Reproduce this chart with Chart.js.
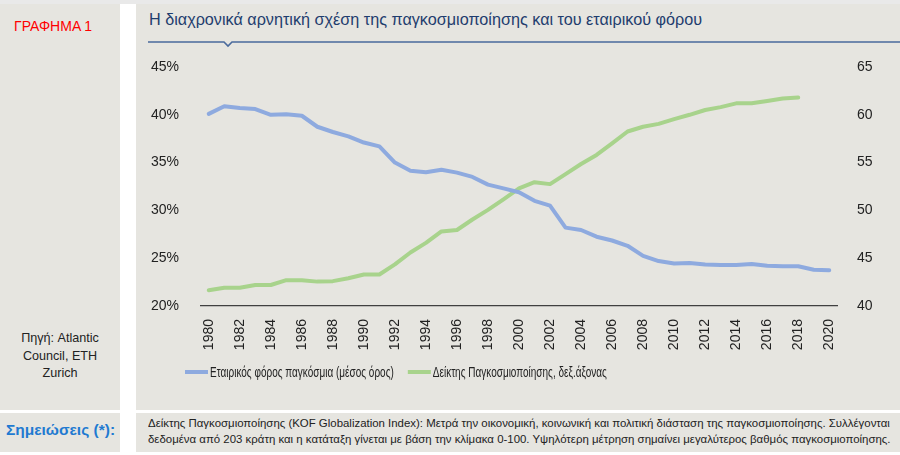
<!DOCTYPE html>
<html>
<head>
<meta charset="utf-8">
<script src="https://cdn.jsdelivr.net/npm/chart.js@4.4.1/dist/chart.umd.min.js"></script>
<style>
  html, body { margin:0; padding:0; background:#ffffff; }
  body { width:900px; height:455px; position:relative; overflow:hidden; font-family:"Liberation Sans", Arial, sans-serif; }
  .p { position:absolute; background:#e6e5e0; }
  #topband { position:absolute; left:0; top:0; width:900px; height:4px; background:#e9e9e9; }
  #graf { position:absolute; left:14px; top:18px; font-size:14px; color:#ff0000; }
  #title { position:absolute; left:149px; top:10px; font-size:16.2px; color:#1f3d6e; white-space:nowrap; }
  #src { position:absolute; left:0; width:120px; top:330px; font-size:12.6px; line-height:17.5px; color:#222; text-align:center; }
  #notes { position:absolute; left:0; width:121px; top:421px; font-size:15.5px; font-weight:bold; color:#1f7ad1; text-align:center; }
  #notetext { position:absolute; left:148px; top:416px; font-size:11.5px; line-height:15.5px; color:#222; white-space:nowrap; transform-origin:0 0; }
  #cwrap { position:absolute; left:136px; top:45px; width:764px; height:365px; }
</style>
</head>
<body>
<div id="topband"></div>
<div class="p" style="left:0;top:4px;width:120px;height:406px;"></div>
<div class="p" style="left:136px;top:4px;width:764px;height:406px;"></div>
<div class="p" style="left:0;top:413px;width:120px;height:39px;"></div>
<div class="p" style="left:136px;top:413px;width:764px;height:39px;"></div>
<div id="graf">ΓΡΑΦΗΜΑ 1</div>
<div id="title">Η διαχρονικά αρνητική σχέση της παγκοσμιοποίησης και του εταιρικού φόρου</div>
<svg style="position:absolute;left:0;top:0" width="900" height="60">
  <polyline points="148,42 224,42 228,46 232,42 900,42" fill="none" stroke="#4a6a9c" stroke-width="1.6"/>
</svg>
<div id="src">Πηγή: Atlantic<br>Council, ETH<br>Zurich</div>
<div id="notes">Σημειώσεις (*):</div>
<div id="notetext">Δείκτης Παγκοσμιοποίησης (KOF Globalization Index): Μετρά την οικονομική, κοινωνική και πολιτική διάσταση της παγκοσμιοποίησης. Συλλέγονται<br>δεδομένα από 203 κράτη και η κατάταξη γίνεται με βάση την κλίμακα 0-100. Υψηλότερη μέτρηση σημαίνει μεγαλύτερος βαθμός παγκοσμιοποίησης.</div>
<div id="cwrap"><canvas id="c" width="764" height="365"></canvas></div>
<script>
const years = ["1980","1981","1982","1983","1984","1985","1986","1987","1988","1989","1990",
  "1991","1992","1993","1994","1995","1996","1997","1998","1999","2000",
  "2001","2002","2003","2004","2005","2006","2007","2008","2009","2010",
  "2011","2012","2013","2014","2015","2016","2017","2018","2019","2020"];
const corporateTax = [40.1,40.9,40.7,40.6,40.0,40.05,39.9,38.75,38.2,37.75,37.1,
  36.7,35.0,34.15,34.0,34.25,33.95,33.5,32.7,32.3,31.9,
  31.0,30.5,28.2,27.95,27.25,26.85,26.3,25.25,24.7,24.45,
  24.5,24.35,24.3,24.3,24.4,24.2,24.15,24.15,23.8,23.75];
const kofIndex = [41.65,41.9,41.9,42.2,42.2,42.7,42.7,42.55,42.6,42.9,43.3,
  43.3,44.35,45.6,46.6,47.8,47.95,49.05,50.05,51.15,52.3,
  52.95,52.75,53.8,54.85,55.8,57.0,58.25,58.75,59.05,59.55,
  60.0,60.5,60.8,61.2,61.2,61.45,61.7,61.8,null,null];
const seriesNames = ["Εταιρικός φόρος παγκόσμια (μέσος όρος)", "Δείκτης Παγκοσμιοποίησης, δεξ.άξονας"];
const leftTicks = [20,25,30,35,40,45];
const rightTicks = [40,45,50,55,60,65];

// fit the note text to its width (narrow font look)
(function(){
  const el = document.getElementById("notetext");
  const w = el.scrollWidth;
  el.style.transform = "scaleX(" + (743 / w) + ")";
})();

const BLUE = "#8eaadf", GREEN = "#a8d38c";
const tickFont = { family: "'Liberation Sans', Arial, sans-serif", size: 14, lineHeight: 16 / 14 };

// legend drawn in a condensed style (text horizontally compressed)
const narrowLegend = {
  id: "narrowLegend",
  afterDraw(chart) {
    const ctx = chart.ctx;
    const sx = 0.645;
    const cy = chart.scales.x.bottom + 18;
    let x = chart.chartArea.left - 16;
    ctx.save();
    ctx.font = "15.5px 'Liberation Sans', Arial, sans-serif";
    ctx.textBaseline = "middle";
    chart.data.datasets.forEach((ds) => {
      ctx.fillStyle = ds.borderColor;
      ctx.fillRect(x, cy - 2, 23, 4);
      x += 25;
      ctx.save();
      ctx.translate(x, cy);
      ctx.scale(sx, 1);
      ctx.fillStyle = "#222";
      ctx.fillText(ds.label, 0, 1);
      ctx.restore();
      x += ctx.measureText(ds.label).width * sx + 14;
    });
    ctx.restore();
  }
};

new Chart(document.getElementById("c"), {
  type: "line",
  data: {
    labels: years,
    datasets: [
      { label: seriesNames[0], data: corporateTax, yAxisID: "y", borderColor: BLUE, backgroundColor: BLUE,
        borderWidth: 4, pointRadius: 0, tension: 0, borderJoinStyle: "round", borderCapStyle: "round" },
      { label: seriesNames[1], data: kofIndex, yAxisID: "y1", borderColor: GREEN, backgroundColor: GREEN,
        borderWidth: 4, pointRadius: 0, tension: 0, borderJoinStyle: "round", borderCapStyle: "round" }
    ]
  },
  plugins: [narrowLegend],
  options: {
    responsive: false,
    animation: false,
    layout: { padding: { top: 0, left: 0, right: 0, bottom: 56 } },
    plugins: {
      tooltip: { enabled: false },
      legend: { display: false }
    },
    scales: {
      x: {
        type: "category",
        offset: true,
        grid: { display: false },
        border: { display: true, color: "#404040", width: 1.2 },
        ticks: { autoSkip: false, maxRotation: 90, minRotation: 90, padding: 5, color: "#222", font: tickFont,
          callback: function(v, i) { return i % 2 === 0 ? years[i] : ""; } },
        afterFit: (s) => { s.height = 48; }
      },
      y: {
        position: "left", min: leftTicks[0], max: leftTicks[leftTicks.length-1],
        grid: { display: false }, border: { display: false },
        afterBuildTicks: (s) => { s.ticks = leftTicks.map(v => ({ value: v })); },
        ticks: { padding: 14, color: "#222", font: tickFont, callback: v => v + "%" },
        afterFit: (s) => { s.width = 65; }
      },
      y1: {
        position: "right", min: rightTicks[0], max: rightTicks[rightTicks.length-1],
        grid: { display: false }, border: { display: false },
        afterBuildTicks: (s) => { s.ticks = rightTicks.map(v => ({ value: v })); },
        ticks: { padding: 12, color: "#222", font: tickFont },
        afterFit: (s) => { s.width = 63; }
      }
    }
  }
});
</script>
</body>
</html>
